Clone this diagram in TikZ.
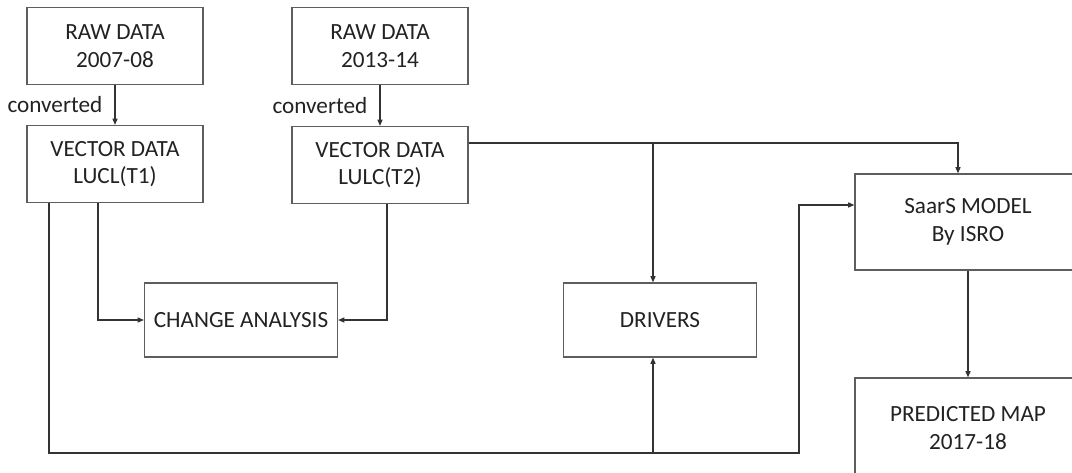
\documentclass[tikz,border=0pt]{standalone}
\usepackage{fontspec}
\setmainfont{Carlito}
\usepackage{tikz}
\usetikzlibrary{arrows.meta}

\definecolor{linegray}{HTML}{333333}
\definecolor{boxgray}{HTML}{5E5E5E}
\definecolor{textgray}{HTML}{222222}

\tikzset{
  box/.style={draw=boxgray, line width=0.8pt, fill=white, align=center, inner sep=0pt,
    text=textgray, font=\fontsize{16.5}{19.5}\selectfont},
  smallbox/.style={box, minimum width=4.4cm, minimum height=1.925cm},
  midbox/.style={box, minimum width=4.825cm, minimum height=1.85cm},
  bigbox/.style={box, minimum width=5.65cm, minimum height=2.45cm},
  flow/.style={-{Triangle[length=4.5pt,width=3.6pt]}, draw=linegray, line width=0.9pt},
  lbl/.style={text=textgray, font=\fontsize{16.5}{19.5}\selectfont, inner sep=0pt}
}

\begin{document}
\begin{tikzpicture}[x=0.025cm, y=-0.025cm]
\useasboundingbox (0,0) rectangle (1072,473);

\node[smallbox] (raw1) at (115,46) {RAW DATA\\2007-08};
\node[smallbox] (vec1) at (115,164) {VECTOR DATA\\LUCL(T1)};
\node[smallbox] (raw2) at (380,46) {RAW DATA\\2013-14};
\node[smallbox] (vec2) at (380,165) {VECTOR DATA\\LULC(T2)};
\node[midbox] (chg) at (241,320) {CHANGE ANALYSIS};
\node[midbox] (drv) at (660,320) {DRIVERS};
\node[bigbox, minimum height=2.4cm] (saar) at (968,222) {SaarS MODEL\\By ISRO};
\node[bigbox, minimum height=2.5cm] (pred) at (968,428) {PREDICTED MAP\\2017-18};

\coordinate (top) at (653,143);
\coordinate (bot) at (653,453);
\coordinate (turn) at (799,453);

\draw[flow] (raw1) -- (vec1) node[lbl, midway, left=0.3cm] {converted};
\draw[flow] (raw2) -- (vec2) node[lbl, midway, left=0.3cm] {converted};

\draw[flow] ([xshift=-0.425cm]vec1.south) |- (chg.west);
\draw[flow] ([xshift=0.175cm]vec2.south) |- (chg.east);

\draw[flow] ([yshift=0.55cm]vec2.east) -| ([xshift=-0.25cm]saar.north);
\draw[flow] (top) -- (top |- drv.north);

\draw[flow] ([xshift=-1.65cm]vec1.south) |- (turn) |- ([yshift=0.425cm]saar.west);
\draw[flow] (bot) -- (bot |- drv.south);

\draw[flow] (saar) -- (pred);
\end{tikzpicture}
\end{document}
